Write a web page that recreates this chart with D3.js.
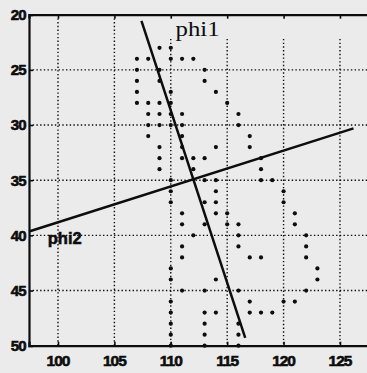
<!DOCTYPE html>
<html lang="en">
<meta charset="utf-8">
<title>phi1 / phi2</title>
<style>
    body { margin: 0; background: #ececec; }
    svg  { display: block; }
</style>
<script src="https://d3js.org/d3.v7.min.js"></script>
<body>
<svg id="canvas"></svg>
<script>

    ///////////////////// Data ////////////////////////
    // dot rows: one y value and the x values of the dots on that row
    var row_y  = [23, 24, 25, 26, 27, 28, 29, 30, 31, 32, 33, 34, 35, 36,
                  37, 38, 39, 40, 41, 42, 43, 44, 45, 46, 47, 48, 49, 50];
    var row_xs = [
        [109, 110],
        [107, 108, 110, 111, 112],
        [107, 109, 113],
        [107, 109, 113],
        [107, 110, 114],
        [107, 108, 109, 110, 115],
        [108, 109, 110, 111, 116],
        [108, 109, 110, 111, 116],
        [108, 111, 117],
        [109, 111, 114, 117],
        [109, 111, 112, 113, 118],
        [109, 112, 118],
        [110, 113, 114, 118, 119],
        [110, 114, 120],
        [110, 113, 114, 120],
        [111, 114, 115, 121],
        [111, 113, 115, 116, 121],
        [112, 116, 122],
        [111, 116, 122],
        [111, 117, 118, 122],
        [110, 123],
        [110, 114, 123],
        [111, 113, 116, 122],
        [110, 117, 120, 121],
        [110, 113, 114, 117, 118, 119],
        [110, 113, 116],
        [110, 113, 116],
        [110, 113, 116]
    ];

    // the two axis lines (end points)
    var phi1_x = [107.4, 116.6];
    var phi1_y = [20.55, 49.3];
    var phi2_x = [97.43, 126.2];
    var phi2_y = [39.65, 30.3];

    // ticks
    var x_ticks = [100, 105, 110, 115, 120, 125];
    var y_ticks = [20, 25, 30, 35, 40, 45, 50];
    ///////////////////////////////////////////////////

    ///////// Position and Dimension Variables ////////
    var dimensions = [367, 373];
    var x_domain   = [97.43, 127.6];
    var y_domain   = [20, 50];
    var plot_left  = 29;
    var plot_right = 369.3;
    var plot_top   = 14.7;
    var plot_bot   = 345.7;
    var tick_len   = 4;
    ///////////////////////////////////////////////////

    ///////////////// Style Variables /////////////////
    var BG_color   = '#ebebeb';
    var ink        = '#0d0d0d';
    var dot_r      = 2.1;
    var sans       = 'Liberation Sans, Arial, sans-serif';
    ///////////////////////////////////////////////////

    var canvas = d3.select("#canvas")
        .attr('width',  dimensions[0])
        .attr('height', dimensions[1])
        .style('background-color', BG_color);

    var x = d3.scaleLinear().domain(x_domain).range([plot_left, plot_right]);
    var y = d3.scaleLinear().domain(y_domain).range([plot_top, plot_bot]);

    //////////////////// grid ///////////////////////
    // vertical grid lines right of the phi1 label start lower
    canvas.append("g").selectAll("line")
        .data(x_ticks)
        .join("line")
        .attr('x1', d => x(d))
        .attr('x2', d => x(d))
        .attr('y1', d => d >= 110 ? y(22.2) : y(20))
        .attr('y2', y(50))
        .attr('stroke', ink)
        .attr('stroke-width', 1.4)
        .attr('stroke-dasharray', '1.4,2.3');

    canvas.append("g").selectAll("line")
        .data(y_ticks.filter(d => d > 20 && d < 50))
        .join("line")
        .attr('x1', x(x_domain[0]))
        .attr('x2', x(x_domain[1]))
        .attr('y1', d => y(d))
        .attr('y2', d => y(d))
        .attr('stroke', ink)
        .attr('stroke-width', 1.4)
        .attr('stroke-dasharray', '1.4,2.3');
    ///////////////////////////////////////////////////

    //////////////////// axes /////////////////////////
    var xAxisBot = d3.axisTop(x).tickValues(x_ticks).tickSize(tick_len).tickFormat("");
    var xAxisTop = d3.axisBottom(x).tickValues(x_ticks).tickSize(tick_len).tickFormat("");
    var yAxis    = d3.axisRight(y).tickValues(y_ticks).tickSize(tick_len).tickFormat("");

    [canvas.append("g").attr('transform', 'translate(0,' + plot_bot + ')').call(xAxisBot),
     canvas.append("g").attr('transform', 'translate(0,' + plot_top + ')').call(xAxisTop),
     canvas.append("g").attr('transform', 'translate(' + plot_left + ',0)').call(yAxis)]
        .forEach(function (g) {
            g.select(".domain").attr('stroke', ink).attr('stroke-width', 2.2);
            g.selectAll(".tick line").attr('stroke', ink).attr('stroke-width', 1.6);
        });

    canvas.append("g").selectAll("text")
        .data(x_ticks)
        .join("text")
        .attr('x', d => x(d))
        .attr('y', 366)
        .attr('text-anchor', 'middle')
        .attr('font-family', sans)
        .attr('font-weight', 'bold')
        .attr('font-size', 15.5)
        .attr('letter-spacing', -1)
        .attr('fill', ink)
        .attr('stroke', ink)
        .attr('stroke-width', 0.6)
        .text(d => d);

    canvas.append("g").selectAll("text")
        .data(y_ticks)
        .join("text")
        .attr('x', 25.5)
        .attr('y', d => y(d) + 5.3)
        .attr('text-anchor', 'end')
        .attr('font-family', sans)
        .attr('font-weight', 'bold')
        .attr('font-size', 15)
        .attr('letter-spacing', -1)
        .attr('fill', ink)
        .attr('stroke', ink)
        .attr('stroke-width', 0.6)
        .text(d => d);
    ///////////////////////////////////////////////////

    //////////////////// dots /////////////////////////
    var dots = [];
    row_y.forEach(function (yy, i) {
        row_xs[i].forEach(function (xx) { dots.push([xx, yy]); });
    });
    canvas.append("g").selectAll("circle")
        .data(dots)
        .join("circle")
        .attr('cx', d => x(d[0]))
        .attr('cy', d => y(d[1]))
        .attr('r', dot_r)
        .attr('fill', ink);
    ///////////////////////////////////////////////////

    //////////////////// lines ////////////////////////
    var line = d3.line().x(d => x(d[0])).y(d => y(d[1]));
    [[phi1_x, phi1_y], [phi2_x, phi2_y]].forEach(function (p) {
        canvas.append("path")
            .attr('d', line(d3.zip(p[0], p[1])))
            .attr('fill', 'none')
            .attr('stroke', ink)
            .attr('stroke-width', 2.5);
    });

    canvas.append("text")
        .attr('x', x(110.43))
        .attr('y', y(21.93))
        .attr('font-family', 'Liberation Serif, Times New Roman, serif')
        .attr('font-size', 21)
        .attr('textLength', 44)
        .attr('lengthAdjust', 'spacingAndGlyphs')
        .attr('fill', ink)
        .text("phi1");

    canvas.append("text")
        .attr('x', x(99.09))
        .attr('y', y(40.8))
        .attr('font-family', sans)
        .attr('font-weight', 'bold')
        .attr('font-size', 16)
        .attr('textLength', 34)
        .attr('lengthAdjust', 'spacingAndGlyphs')
        .attr('fill', ink)
        .attr('stroke', ink)
        .attr('stroke-width', 0.5)
        .text("phi2");
    ///////////////////////////////////////////////////

</script>
</body>
</html>
